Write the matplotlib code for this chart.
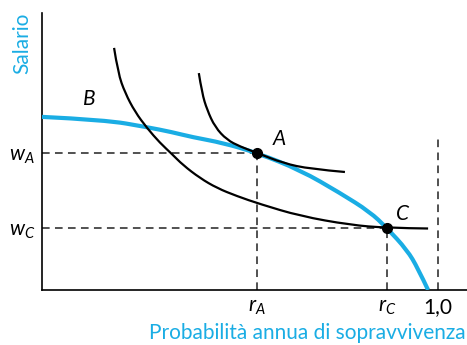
import matplotlib
matplotlib.use("Agg")
import matplotlib.pyplot as plt
from matplotlib.path import Path
from matplotlib.patches import PathPatch

plt.rcParams['font.family'] = ['Lato', 'DejaVu Sans']
plt.rcParams['mathtext.fontset'] = 'custom'
plt.rcParams['mathtext.rm'] = 'Lato'
plt.rcParams['mathtext.it'] = 'Lato:italic'

CYAN = '#1AADE4'

# frontier B: wage vs. annual survival probability
frontier_x = [0.0, 0.159, 0.265, 0.328, 0.379, 0.457, 0.543, 0.652, 0.753, 0.828, 0.871, 0.922, 0.949, 0.975]
frontier_y = [0.625, 0.614, 0.588, 0.570, 0.552, 0.531, 0.495, 0.433, 0.350, 0.282, 0.224, 0.144, 0.079, 0.0]

# lower indifference curve (through C)
ic_low_x = [0.182, 0.192, 0.210, 0.235, 0.265, 0.298, 0.328, 0.356, 0.399, 0.442, 0.492, 0.551, 0.652, 0.778, 0.871, 0.975]
ic_low_y = [0.874, 0.783, 0.711, 0.643, 0.585, 0.531, 0.491, 0.451, 0.404, 0.368, 0.339, 0.310, 0.267, 0.235, 0.224, 0.222]

# upper indifference curve (through A)
ic_high_x = [0.396, 0.404, 0.417, 0.437, 0.467, 0.500, 0.543, 0.609, 0.677, 0.765]
ic_high_y = [0.783, 0.711, 0.650, 0.588, 0.542, 0.518, 0.495, 0.458, 0.437, 0.426]

point_names = ['A', 'C']
point_r = [0.543, 0.871]
point_w = [0.495, 0.224]
one_height = 0.552


def smooth_curve(ax, xs, ys, **kw):
    # quadratic b-spline through the read points, drawn as a path
    pts = list(zip(xs, ys))
    verts = [pts[0]]
    codes = [Path.MOVETO]
    for i in range(1, len(pts) - 1):
        end = pts[i + 1] if i == len(pts) - 2 else ((pts[i][0] + pts[i + 1][0]) / 2, (pts[i][1] + pts[i + 1][1]) / 2)
        verts += [pts[i], end]
        codes += [Path.CURVE3, Path.CURVE3]
    ax.add_patch(PathPatch(Path(verts, codes), fill=False, **kw))


fig = plt.figure(figsize=(4.67, 3.45), dpi=100)
ax = fig.add_axes([42 / 467, 55 / 345, 425 / 467, 277 / 345])

dash = dict(color='#222222', lw=1.1, linestyle=(0, (5, 3.5)))
for r, w in zip(point_r, point_w):
    ax.plot([0, r], [w, w], **dash)
    ax.plot([r, r], [0, w], **dash)
ax.plot([1.0, 1.0], [0, one_height], **dash)

smooth_curve(ax, frontier_x, frontier_y, edgecolor=CYAN, lw=3.0, capstyle='butt', zorder=3)
smooth_curve(ax, ic_low_x, ic_low_y, edgecolor='black', lw=1.6, zorder=4)
smooth_curve(ax, ic_high_x, ic_high_y, edgecolor='black', lw=1.6, zorder=4)
ax.plot(point_r, point_w, 'o', color='black', ms=7, zorder=5)

ax.text(point_r[0] + 0.055, point_w[0] + 0.015, point_names[0], fontsize=15, style='italic', ha='center', va='bottom')
ax.text(point_r[1] + 0.04, point_w[1] + 0.015, point_names[1], fontsize=15, style='italic', ha='center', va='bottom')
ax.text(0.12, 0.655, 'B', fontsize=15, style='italic', ha='center', va='bottom')

ax.set_xlim(0, 425 / 396)
ax.set_ylim(0, 1)
ax.set_xticks([point_r[0], point_r[1], 1.0])
ax.set_xticklabels([r'$r_A$', r'$r_C$', '1,0'], fontsize=15)
ax.set_yticks(point_w)
ax.set_yticklabels([r'$w_A$', r'$w_C$'], fontsize=15)
ax.tick_params(length=0, pad=5)
for s in ['top', 'right']:
    ax.spines[s].set_visible(False)
for s in ['left', 'bottom']:
    ax.spines[s].set_linewidth(1.2)

fig.text(22 / 467, 1 - 13 / 345, 'Salario', color=CYAN, fontsize=15, rotation=90, ha='center', va='top')
fig.text(466 / 467, 1 - 333 / 345, 'Probabilità annua di sopravvivenza', color=CYAN, fontsize=15, ha='right', va='center')

fig.savefig('out.png', dpi=100)
